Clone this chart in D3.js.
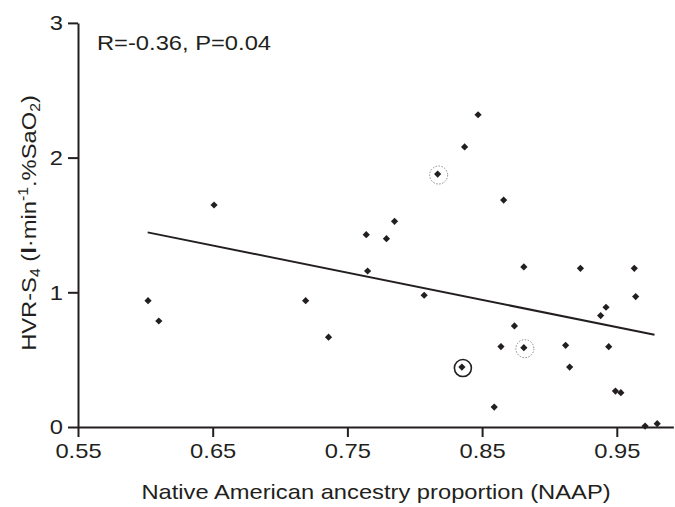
<!DOCTYPE html>
<html>
<head>
<meta charset="utf-8">
<script src="https://cdn.jsdelivr.net/npm/d3@7"></script>
<style>
  body { margin: 0; background: #fff; }
  svg text { font-family: "Liberation Sans", Arial, sans-serif; fill: #231f20; }
</style>
</head>
<body>
<div id="chart-container"></div>
<script>
// data
const naap = [0.602, 0.610, 0.651, 0.719, 0.736, 0.764, 0.765, 0.779, 0.785, 0.807,
  0.817, 0.835, 0.837, 0.847, 0.859, 0.864, 0.866, 0.874, 0.881, 0.881,
  0.912, 0.915, 0.923, 0.938, 0.942, 0.944, 0.949, 0.953, 0.963, 0.964,
  0.971, 0.980]
const hvr = [0.938, 0.787, 1.648, 0.938, 0.667, 1.428, 1.158, 1.398, 1.527, 0.978,
  1.878, 0.445, 2.079, 2.318, 0.148, 0.597, 1.685, 0.750, 1.188, 0.589,
  0.606, 0.445, 1.178, 0.827, 0.889, 0.596, 0.267, 0.255, 1.178, 0.968,
  0.007, 0.025]
// which points get a ring: 'dotted' or 'solid'
const ringed = [{i: 10, kind: 'dotted'}, {i: 19, kind: 'dotted'}, {i: 11, kind: 'solid'}]
const fitX = [0.6017, 0.978]
const fitY = [1.445, 0.685]
const xTicks = [0.55, 0.65, 0.75, 0.85, 0.95]
const yTicks = [0, 1, 2, 3]
const statLabel = 'R=-0.36, P=0.04'

const width = 675
const height = 507
const x0 = 78
const y0 = 427
const pxPerX = 1347
const pxPerY = 134.7
const stretch = 1.13 // the original font runs wider than Arial

const x = d3.scaleLinear().domain([0.55, 0.992]).range([x0, x0 + 0.442 * pxPerX])
const y = d3.scaleLinear().domain([0, 3]).range([y0, y0 - 3 * pxPerY])

const svg = d3.select('#chart-container')
  .append('svg')
  .attr('width', width)
  .attr('height', height)

// axes
const xAxis = svg.append('g')
  .attr('transform', `translate(0, ${y0})`)
  .call(d3.axisBottom(x).tickValues(xTicks).tickFormat(d3.format('.2f')).tickSize(10).tickSizeOuter(0))
const yAxis = svg.append('g')
  .attr('transform', `translate(${x0}, 0)`)
  .call(d3.axisLeft(y).tickValues(yTicks).tickFormat(d3.format('d')).tickSize(10).tickSizeOuter(0))

;[xAxis, yAxis].forEach(ax => {
  ax.select('.domain').attr('stroke', '#231f20').attr('stroke-width', 2)
  ax.selectAll('.tick line').attr('stroke', '#231f20').attr('stroke-width', 2)
  ax.selectAll('.tick text')
    .style('font-size', '21px')
    .style('font-family', '"Liberation Sans", Arial, sans-serif')
    .attr('fill', '#231f20')
    .attr('transform', `scale(${stretch}, 1)`)
})
xAxis.selectAll('.tick text').attr('dy', '0.95em').attr('y', 11)
yAxis.selectAll('.tick text').attr('x', -15 / stretch)

// regression line
svg.append('line')
  .attr('x1', x(fitX[0]))
  .attr('y1', y(fitY[0]))
  .attr('x2', x(fitX[1]))
  .attr('y2', y(fitY[1]))
  .attr('stroke', '#231f20')
  .attr('stroke-width', 2)

// rings around highlighted points
svg.selectAll('circle.ring')
  .data(ringed)
  .enter()
  .append('circle')
  .attr('class', 'ring')
  .attr('cx', d => x(naap[d.i]) + 1)
  .attr('cy', d => y(hvr[d.i]) + 1)
  .attr('r', d => d.kind === 'solid' ? 8.5 : 9)
  .attr('fill', 'none')
  .attr('stroke', d => d.kind === 'solid' ? '#231f20' : '#888')
  .attr('stroke-width', d => d.kind === 'solid' ? 1.6 : 1)
  .attr('stroke-dasharray', d => d.kind === 'solid' ? null : '1.5,1.5')

// points
const diamond = d3.symbol().type(d3.symbolSquare).size(26)
svg.selectAll('path.pt')
  .data(naap)
  .enter()
  .append('path')
  .attr('class', 'pt')
  .attr('d', diamond)
  .attr('transform', (d, i) => `translate(${x(d)}, ${y(hvr[i])}) rotate(45)`)
  .attr('fill', '#231f20')

// stat text
svg.append('text')
  .attr('transform', `translate(97, 50) scale(${stretch}, 1)`)
  .style('font-size', '21px')
  .text(statLabel)

// axis titles
svg.append('text')
  .attr('transform', `translate(376, 499) scale(${stretch}, 1)`)
  .attr('text-anchor', 'middle')
  .style('font-size', '21px')
  .text('Native American ancestry proportion (NAAP)')

const yTitle = svg.append('text')
  .attr('transform', `translate(36, 223) rotate(-90) scale(${stretch}, 1)`)
  .attr('text-anchor', 'middle')
  .style('font-size', '21px')
yTitle.append('tspan').text('HVR-S')
yTitle.append('tspan').attr('dy', 4).style('font-size', '14px').text('4')
yTitle.append('tspan').attr('dy', -4).text(' (')
yTitle.append('tspan').style('font-weight', 'bold').text('l')
yTitle.append('tspan').text('·min')
yTitle.append('tspan').attr('dy', -8).style('font-size', '14px').text('-1')
yTitle.append('tspan').attr('dy', 8).text('.%SaO')
yTitle.append('tspan').attr('dy', 4).style('font-size', '14px').text('2')
yTitle.append('tspan').attr('dy', -4).text(')')
</script>
</body>
</html>
